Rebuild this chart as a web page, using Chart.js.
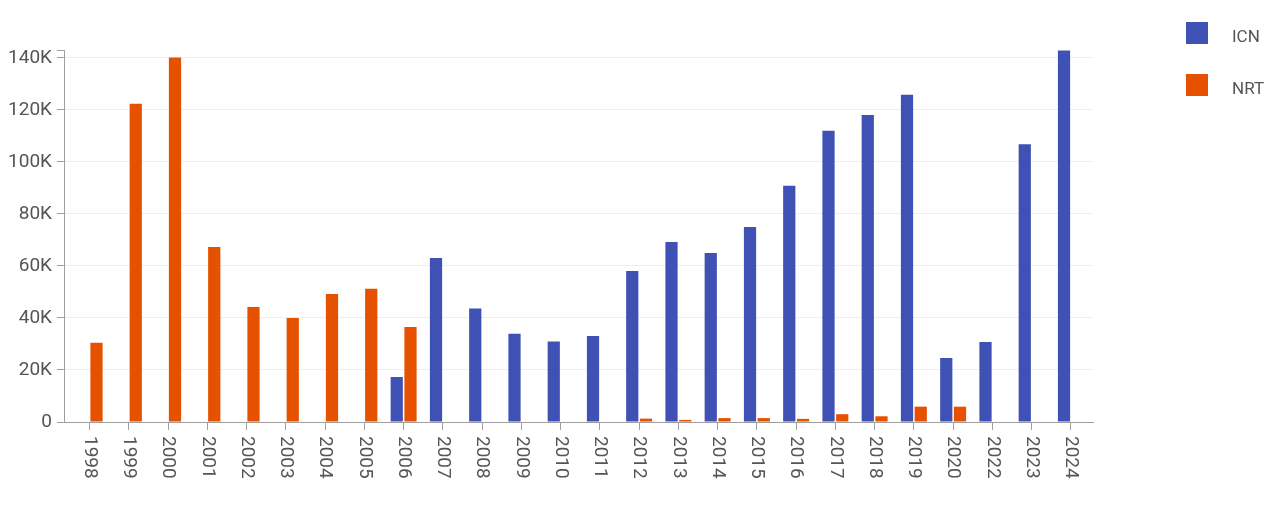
<!DOCTYPE html>
<html>
<head>
<meta charset="utf-8">
<script src="https://cdn.jsdelivr.net/npm/chart.js@4/dist/chart.umd.min.js"></script>
<style>
    html, body { margin: 0; padding: 0; background: #fff; }
    #wrap { position: relative; width: 1280px; height: 509px; }
    #legend { position: absolute; left: 1186px; top: 22px; font-family: Roboto, sans-serif; font-size: 17px; color: #555; }
    #legend .item { display: flex; align-items: center; height: 22px; margin-bottom: 30px; }
    #legend .box { width: 22px; height: 22px; margin-right: 24px; }
    #legend .name { padding-top: 5px; }
</style>
</head>
<body>
<div id="wrap">
    <canvas id="airportChart" width="1280" height="509"></canvas>
    <div id="legend"></div>
</div>
<script>
    // Chart data
    const years = ['1998', '1999', '2000', '2001', '2002', '2003', '2004', '2005', '2006', '2007',
        '2008', '2009', '2010', '2011', '2012', '2013', '2014', '2015', '2016', '2017',
        '2018', '2019', '2020', '2022', '2023', '2024'];
    const icnValues = [null, null, null, null, null, null, null, null, 17300, 63000,
        43600, 33900, 30900, 33100, 58000, 69200, 65000, 75000, 90800, 112000,
        118000, 125800, 24600, 30800, 106800, 142800];
    const nrtValues = [30500, 122300, 140100, 67300, 44200, 40000, 49200, 51200, 36500, null,
        null, null, null, null, 1300, 800, 1500, 1500, 1200, 3000,
        2200, 5900, 5900, null, null, null];
    const yTicks = [0, 20000, 40000, 60000, 80000, 100000, 120000, 140000];
    const yMax = 143000;

    const seriesNames = ['ICN', 'NRT'];
    const seriesColors = ['#3f51b5', '#e65100'];

    const textColor = '#555';
    const axisColor = '#9e9e9e';
    const gridColor = '#eeeeee';

    // categories sit a little inside the axis line on both ends
    const xInset = {
        id: 'xInset',
        afterLayout(chart) {
            const s = chart.scales.x;
            s._startPixel = s.left + 6;
            s._endPixel = s.right - 2.5;
            s._length = s._endPixel - s._startPixel;
        }
    };

    // x labels read top-to-bottom, which the default rotation can't do
    const rotatedXLabels = {
        id: 'rotatedXLabels',
        afterDraw(chart) {
            const ctx = chart.ctx;
            const xScale = chart.scales.x;
            ctx.save();
            ctx.font = '19px Roboto, sans-serif';
            ctx.fillStyle = textColor;
            ctx.textAlign = 'left';
            ctx.textBaseline = 'middle';
            years.forEach((label, i) => {
                const x = xScale.getPixelForValue(i);
                ctx.save();
                ctx.translate(x, xScale.top + 14);
                ctx.rotate(Math.PI / 2);
                ctx.fillText(label, 0, 0);
                ctx.restore();
            });
            ctx.restore();
        }
    };

    const ctx = document.getElementById('airportChart').getContext('2d');
    const airportChart = new Chart(ctx, {
        type: 'bar',
        data: {
            labels: years,
            datasets: [{
                label: seriesNames[0],
                data: icnValues,
                backgroundColor: seriesColors[0],
                categoryPercentage: 0.7,
                barPercentage: 0.89
            }, {
                label: seriesNames[1],
                data: nrtValues,
                backgroundColor: seriesColors[1],
                categoryPercentage: 0.7,
                barPercentage: 0.89
            }]
        },
        options: {
            responsive: false,
            animation: false,
            layout: {
                padding: { left: 0, top: 50, right: 187, bottom: 79 }
            },
            plugins: {
                legend: { display: false },
                tooltip: { enabled: false }
            },
            scales: {
                x: {
                    grid: {
                        display: true,
                        drawOnChartArea: false,
                        offset: false,
                        tickLength: 8,
                        tickColor: axisColor
                    },
                    border: { color: axisColor, width: 1 },
                    ticks: { display: false }
                },
                y: {
                    min: 0,
                    max: yMax,
                    afterFit: function(scale) {
                        scale.width = 64;
                    },
                    afterBuildTicks: function(scale) {
                        scale.ticks = yTicks.concat([yMax]).map(v => ({ value: v }));
                    },
                    grid: {
                        color: function(c) {
                            return yTicks.includes(c.tick.value) ? gridColor : 'rgba(0,0,0,0)';
                        },
                        tickLength: 7,
                        tickColor: axisColor
                    },
                    border: { color: axisColor, width: 1 },
                    ticks: {
                        padding: 5,
                        color: textColor,
                        font: { family: 'Roboto, sans-serif', size: 19 },
                        callback: function(value) {
                            if (!yTicks.includes(value)) return '';
                            return value === 0 ? '0' : (value / 1000) + 'K';
                        }
                    }
                }
            }
        },
        plugins: [xInset, rotatedXLabels]
    });

    // Legend
    const legendEl = document.getElementById('legend');
    seriesNames.forEach((name, i) => {
        const item = document.createElement('div');
        item.className = 'item';
        item.innerHTML = '<span class="box" style="background:' + seriesColors[i] + '"></span><span class="name">' + name + '</span>';
        legendEl.appendChild(item);
    });
</script>
</body>
</html>
